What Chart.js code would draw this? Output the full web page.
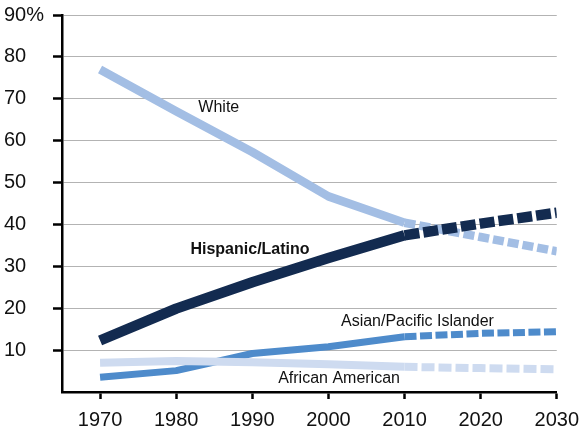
<!DOCTYPE html>
<html>
<head>
<meta charset="utf-8">
<script src="https://cdn.jsdelivr.net/npm/chart.js@4.4.1/dist/chart.umd.min.js"></script>
<style>
  body { margin: 0; background: #fff; }
  #wrap { width: 588px; height: 433px; }
</style>
</head>
<body>
<div id="wrap"><canvas id="share-chart" width="588" height="433"></canvas></div>
<script>
// population share by group, percent
const years = [1970, 1980, 1990, 2000, 2010, 2020, 2030];
const white = [77, 67, 57.3, 46.7, 40.4, 37, 33.6];
const hispanic = [12.3, 19.9, 26.2, 32, 37.4, 40.2, 42.8];
const asian = [3.5, 5.1, 9.2, 10.8, 13.2, 14, 14.4];
const african = [7.0, 7.4, 7.1, 6.6, 6.0, 5.7, 5.4];
const yTicks = [0, 10, 20, 30, 40, 50, 60, 70, 80, 90];
const projectionStart = 2010;

function toPoints(values){
    return values.map(function(v, i){ return {x: years[i], y: v}; });
}

function makeSet(name, values, colour, width, dash){
    return {
        label: name,
        data: toPoints(values),
        borderColor: colour,
        borderWidth: width,
        borderCapStyle: 'butt',
        borderJoinStyle: 'round',
        pointRadius: 0,
        fill: false,
        tension: 0,
        segment: {
            borderDash: ctx => ctx.p0.parsed.x >= projectionStart ? dash : undefined
        }
    };
}

// first dataset is drawn on top
let datasets = [
    makeSet('Hispanic/Latino', hispanic, '#132b50', 10.5, [15, 4]),
    makeSet('African American', african, '#cedbf0', 8, [13, 4]),
    makeSet('Asian/Pacific Islander', asian, '#4e8bcb', 7, [12, 3.5]),
    makeSet('White', white, '#a3bee4', 8.5, [11, 4])
];

// series names written next to the lines (year, percent)
let seriesLabels = [
    {text: 'White', x: 1985.6, y: 67.9, bold: false},
    {text: 'Hispanic/Latino', x: 1989.7, y: 34.0, bold: true},
    {text: 'Asian/Pacific Islander', x: 2011.7, y: 16.9, bold: false},
    {text: 'African American', x: 2001.4, y: 3.3, bold: false}
];

const lineLabels = {
    id: 'lineLabels',
    afterDatasetsDraw(chart){
        const c = chart.ctx;
        c.save();
        c.fillStyle = '#111';
        c.textAlign = 'center';
        c.textBaseline = 'middle';
        seriesLabels.forEach(function(l){
            c.font = (l.bold ? 'bold ' : '') + '16px "Liberation Sans", Arial, sans-serif';
            c.fillText(l.text, chart.scales.x.getPixelForValue(l.x), chart.scales.y.getPixelForValue(l.y));
        });
        c.restore();
    }
};

let config = {
    type: 'line',
    data: { datasets: datasets },
    options: {
        responsive: false,
        animation: false,
        devicePixelRatio: 1,
        layout: { padding: { left: 4, top: 13, right: 29, bottom: 0 } },
        plugins: { legend: { display: false }, tooltip: { enabled: false } },
        scales: {
            x: {
                type: 'linear',
                min: 1965,
                max: 2030,
                afterBuildTicks: axis => { axis.ticks = years.map(v => ({value: v})); },
                afterFit: scale => { scale.height = 41; },
                border: { display: true, color: '#000', width: 2.5 },
                grid: {
                    drawOnChartArea: false,
                    drawTicks: true,
                    tickLength: 7,
                    tickColor: '#000',
                    tickWidth: 2.5
                },
                ticks: {
                    color: '#111',
                    font: { family: '"Liberation Sans", Arial, sans-serif', size: 20 },
                    padding: 9,
                    maxRotation: 0,
                    autoSkip: false,
                    callback: v => String(v)
                }
            },
            y: {
                min: 0,
                max: 90,
                afterBuildTicks: axis => { axis.ticks = yTicks.map(v => ({value: v})); },
                afterFit: scale => { scale.width = 58; },
                border: { display: true, color: '#000', width: 2.5 },
                grid: {
                    color: ctx => ctx.tick && ctx.tick.value === 0 ? 'rgba(0,0,0,0)' : '#b3b3b3',
                    lineWidth: 1,
                    tickLength: 9,
                    tickColor: ctx => ctx.tick && ctx.tick.value === 0 ? 'rgba(0,0,0,0)' : '#000',
                    tickWidth: 2.5
                },
                ticks: {
                    color: '#111',
                    crossAlign: 'far',
                    font: { family: '"Liberation Sans", Arial, sans-serif', size: 20 },
                    callback: v => v === 0 ? '' : (v === 90 ? '90%' : String(v))
                }
            }
        }
    },
    plugins: [lineLabels]
};

let share_chart = new Chart(document.getElementById('share-chart'), config);
</script>
</body>
</html>
